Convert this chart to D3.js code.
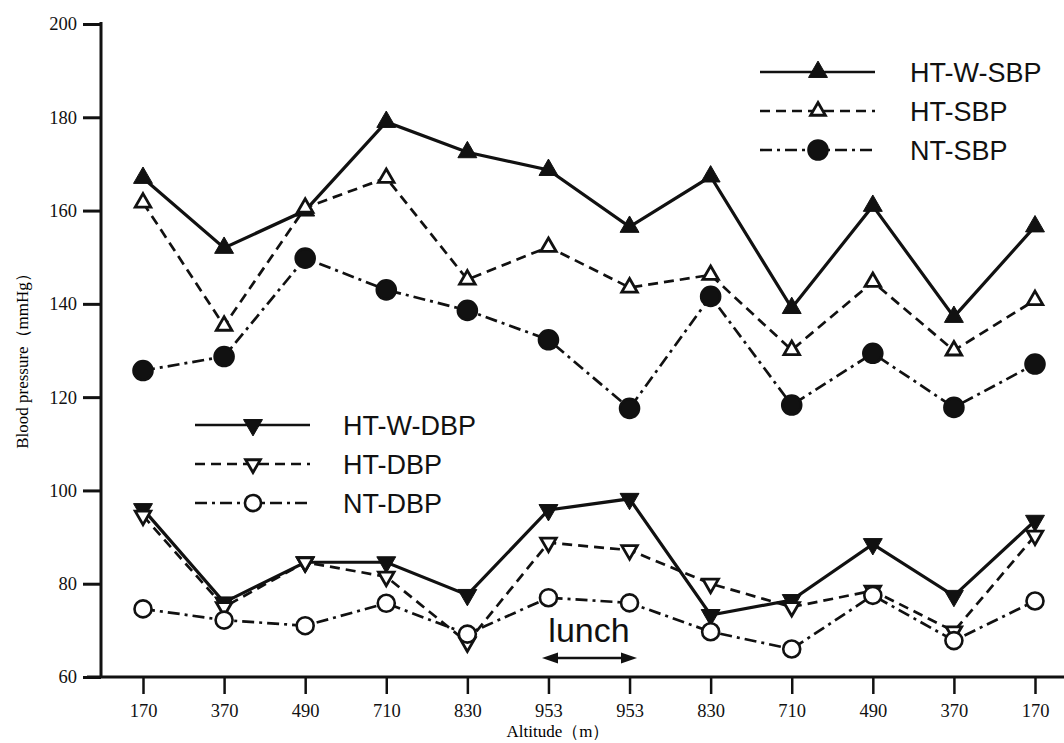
<!DOCTYPE html>
<html lang="en">
  <head>
    <meta charset="utf-8">
    <title>Blood pressure by altitude</title>
    <style>
      body { margin: 0; background: #fff; }
      svg { display: block; }
      .tick text { font-family: "Liberation Serif", "Times New Roman", serif; font-size: 18.5px; fill: #111; }
      .legend text, .note { font-family: "Liberation Sans", Arial, sans-serif; fill: #111; }
    </style>
  </head>
  <body>
    <svg width="1064" height="743"></svg>
    <script src="https://d3js.org/d3.v7.min.js"></script>
    <script>
      // altitude stops along the walk (m)
      var altitudes = ["170","370","490","710","830","953","953","830","710","490","370","170"];
      var yTicks = [60, 80, 100, 120, 140, 160, 180, 200];

      // systolic
      var htwSBP = [167, 152, 160, 179, 172.5, 168.7, 156.5, 167.3, 139.1, 161, 137.2, 156.6];
      var htSBP  = [161.7, 135.3, 160.6, 167, 145.2, 152.2, 143.5, 146.2, 130.1, 144.7, 130, 140.8];
      var ntSBP  = [125.7, 128.7, 149.8, 143, 138.6, 132.3, 117.6, 141.6, 118.3, 129.4, 117.8, 127.1];
      // diastolic
      var htwDBP = [96, 76, 84.6, 84.6, 77.6, 95.8, 98.2, 73.3, 76.5, 88.5, 77.4, 93.5];
      var htDBP  = [94.6, 75, 84.6, 81.5, 67.4, 88.8, 87.2, 80, 75, 78.5, 69.8, 90.3];
      var ntDBP  = [74.6, 72.2, 71, 75.8, 69.2, 77, 75.9, 69.7, 66, 77.5, 67.8, 76.3];

      var svg = d3.select("svg");

      var x = d3.scalePoint().domain(d3.range(altitudes.length)).range([143, 1035]);
      var y = d3.scaleLinear().domain([60, 200]).range([677, 24]);

      var dashed = "10,6";
      var dashDot = "12,5,3,5";

      var series = [
        {name: "HT-W-SBP", data: htwSBP, dash: null, sym: "up", fill: true},
        {name: "HT-SBP", data: htSBP, dash: dashed, sym: "up", fill: false},
        {name: "NT-SBP", data: ntSBP, dash: dashDot, sym: "circle", fill: true},
        {name: "HT-W-DBP", data: htwDBP, dash: null, sym: "down", fill: true},
        {name: "HT-DBP", data: htDBP, dash: dashed, sym: "down", fill: false},
        {name: "NT-DBP", data: ntDBP, dash: dashDot, sym: "circle", fill: false}
      ];

      // axes
      var yAxis = svg.append("g")
        .attr("transform", "translate(101,0)")
        .call(d3.axisLeft(y).tickValues(yTicks).tickSize(18).tickPadding(6).tickSizeOuter(0));
      yAxis.select(".domain").remove();
      yAxis.selectAll("line").attr("stroke", "#111").attr("stroke-width", 3);

      svg.append("line")
        .attr("x1", 101).attr("x2", 101).attr("y1", 22).attr("y2", 678)
        .attr("stroke", "#111").attr("stroke-width", 3);

      var xAxis = svg.append("g")
        .attr("transform", "translate(0,677)")
        .call(d3.axisBottom(x).tickSize(17).tickPadding(10).tickFormat(i => altitudes[i]));
      xAxis.select(".domain").remove();
      xAxis.selectAll("line").attr("stroke", "#111").attr("stroke-width", 2.5);

      svg.append("line")
        .attr("x1", 87).attr("x2", 1064).attr("y1", 677).attr("y2", 677)
        .attr("stroke", "#111").attr("stroke-width", 3);

      svg.append("text")
        .attr("x", 558).attr("y", 737)
        .attr("text-anchor", "middle")
        .style("font-family", "'Liberation Serif', serif").style("font-size", "17px")
        .text("Altitude（m）");

      svg.append("text")
        .attr("transform", "translate(28,357) rotate(-90)")
        .attr("text-anchor", "middle")
        .style("font-family", "'Liberation Serif', serif").style("font-size", "17px")
        .text("Blood pressure（mmHg）");

      // marker drawing
      function marker(g, s, cx, cy, scale) {
        scale = scale || 1;
        if (s.sym === "circle") {
          g.append("circle")
            .attr("cx", cx).attr("cy", cy).attr("r", (s.fill ? 9.5 : 8.5) * scale)
            .attr("fill", s.fill ? "#111" : "#fff")
            .attr("stroke", "#111").attr("stroke-width", 2.6);
        } else {
          var size = (s.fill ? 155 : 105) * scale * scale;
          g.append("path")
            .attr("d", d3.symbol(d3.symbolTriangle, size)())
            .attr("transform", "translate(" + cx + "," + cy + ")" + (s.sym === "down" ? " rotate(180)" : ""))
            .attr("fill", s.fill ? "#111" : "#fff")
            .attr("stroke", "#111").attr("stroke-width", s.fill ? 1 : 2.8)
            .attr("stroke-linejoin", "miter");
        }
      }

      var line = d3.line().x((d, i) => x(i)).y(d => y(d));

      series.forEach(function(s) {
        svg.append("path")
          .datum(s.data)
          .attr("d", line)
          .attr("fill", "none")
          .attr("stroke", "#111")
          .attr("stroke-width", s.dash ? 2.7 : 3.2)
          .attr("stroke-dasharray", s.dash);
      });

      var marks = svg.append("g");
      series.forEach(function(s) {
        s.data.forEach(function(v, i) { marker(marks, s, x(i), y(v)); });
      });

      // legends
      function legend(list, lx, tx, rows) {
        var g = svg.append("g").attr("class", "legend");
        list.forEach(function(s, i) {
          g.append("line")
            .attr("x1", lx).attr("x2", lx + 115).attr("y1", rows[i]).attr("y2", rows[i])
            .attr("stroke", "#111").attr("stroke-width", 2.6)
            .attr("stroke-dasharray", s.dash);
          marker(g, s, lx + 58, rows[i], s.fill ? 1 : 0.95);
          g.append("text")
            .attr("x", tx).attr("y", rows[i]).attr("dy", "0.36em")
            .style("font-size", "27px")
            .text(s.name);
        });
      }
      legend(series.slice(0, 3), 760, 910, [72, 111, 150]);
      legend(series.slice(3), 195, 343, [425, 464, 503]);

      // lunch break annotation
      svg.append("text")
        .attr("class", "note")
        .attr("x", x(5) + (x(6) - x(5)) / 2).attr("y", 642)
        .attr("text-anchor", "middle")
        .style("font-size", "34px")
        .text("lunch");

      var ay = 658, ax1 = 542, ax2 = 637;
      svg.append("line")
        .attr("x1", ax1 + 10).attr("x2", ax2 - 10).attr("y1", ay).attr("y2", ay)
        .attr("stroke", "#111").attr("stroke-width", 2.5);
      svg.append("path")
        .attr("d", "M" + ax1 + "," + ay + "L" + (ax1 + 16) + "," + (ay - 5.5) + "L" + (ax1 + 16) + "," + (ay + 5.5) + "Z")
        .attr("fill", "#111");
      svg.append("path")
        .attr("d", "M" + ax2 + "," + ay + "L" + (ax2 - 16) + "," + (ay - 5.5) + "L" + (ax2 - 16) + "," + (ay + 5.5) + "Z")
        .attr("fill", "#111");
    </script>
  </body>
</html>
